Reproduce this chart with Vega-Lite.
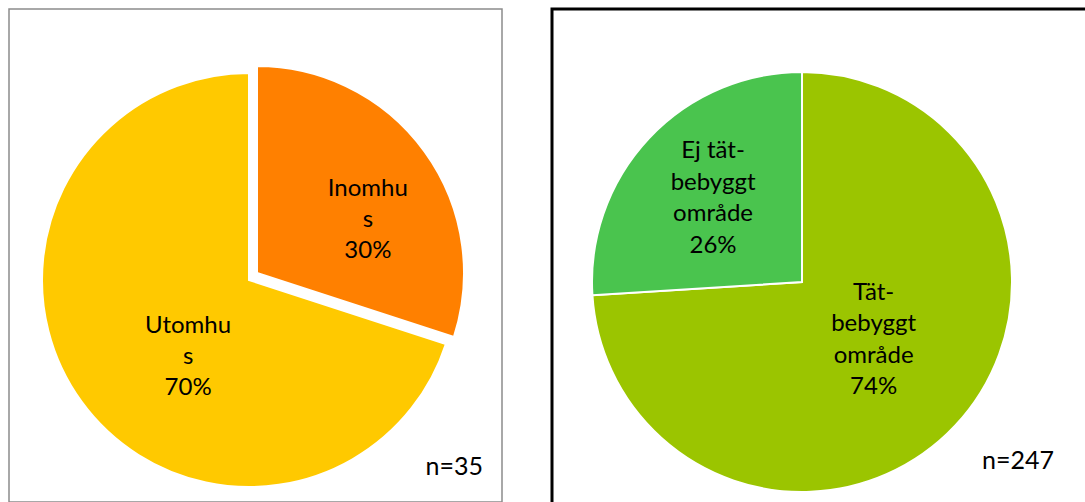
{
  "$schema": "https://vega.github.io/schema/vega-lite/v6.json",
  "padding": {"left": 8, "top": 7, "right": -9.5, "bottom": -6.5},
  "autosize": {"type": "pad"},
  "spacing": 47,
  "resolve": {"scale": {"color": "independent", "theta": "independent"}},
  "config": {"font": "Lato", "text": {"font": "Lato"}},
  "hconcat": [
    {
      "width": 493,
      "height": 493,
      "view": {"stroke": "#8c8c8c", "strokeWidth": 1.5},
      "data": {"values": [
        {"plats": "Inomhus", "etikett": "Inomhu\ns", "andel": 30},
        {"plats": "Utomhus", "etikett": "Utomhu\ns", "andel": 70}
      ]},
      "layer": [
        {
          "mark": {"type": "arc", "outerRadius": 207, "stroke": "white", "strokeWidth": 2, "x": {"expr": "concat_0_width/2 - 6.5"}, "y": {"expr": "concat_0_height/2 + 24.5"}},
          "encoding": {
            "theta": {"field": "andel", "type": "quantitative", "stack": true},
            "order": {"field": "andel", "sort": "ascending"},
            "color": {"field": "plats", "type": "nominal", "scale": {"domain": ["Inomhus", "Utomhus"], "range": ["#FF8000", "#FFC900"]}, "legend": null},
            "opacity": {"condition": {"test": "datum.plats == 'Utomhus'", "value": 1}, "value": 0}
          }
        },
        {
          "mark": {"type": "arc", "outerRadius": 207, "stroke": "white", "strokeWidth": 2, "x": {"expr": "concat_0_width/2 + 1.5"}, "y": {"expr": "concat_0_height/2 + 17.5"}},
          "encoding": {
            "theta": {"field": "andel", "type": "quantitative", "stack": true},
            "order": {"field": "andel", "sort": "ascending"},
            "color": {"field": "plats", "type": "nominal", "scale": {"domain": ["Inomhus", "Utomhus"], "range": ["#FF8000", "#FFC900"]}, "legend": null},
            "opacity": {"condition": {"test": "datum.plats == 'Inomhus'", "value": 1}, "value": 0}
          }
        },
        {
          "mark": {"type": "text", "radius": 123, "thetaOffset": 0.18, "dy": -31, "x": {"expr": "concat_0_width/2 + 1.5"}, "y": {"expr": "concat_0_height/2 + 17.5"}, "fontSize": 24, "lineBreak": "\n", "lineHeight": 31, "color": "black", "align": "center", "baseline": "middle", "text": {"expr": "datum.etikett + '\\n' + datum.andel + '%'"}},
          "encoding": {
            "theta": {"field": "andel", "type": "quantitative", "stack": true},
            "order": {"field": "andel", "sort": "ascending"},
            "opacity": {"condition": {"test": "datum.plats == 'Inomhus'", "value": 1}, "value": 0}
          }
        },
        {
          "mark": {"type": "text", "radius": 98, "thetaOffset": -0.272, "dy": -31, "x": {"expr": "concat_0_width/2 - 6.5"}, "y": {"expr": "concat_0_height/2 + 24.5"}, "fontSize": 24, "lineBreak": "\n", "lineHeight": 31, "color": "black", "align": "center", "baseline": "middle", "text": {"expr": "datum.etikett + '\\n' + datum.andel + '%'"}},
          "encoding": {
            "theta": {"field": "andel", "type": "quantitative", "stack": true},
            "order": {"field": "andel", "sort": "ascending"},
            "opacity": {"condition": {"test": "datum.plats == 'Utomhus'", "value": 1}, "value": 0}
          }
        },
        {
          "data": {"values": [{"n": 35}]},
          "mark": {"type": "text", "x": {"expr": "concat_0_width - 19"}, "y": {"expr": "concat_0_height - 27"}, "align": "right", "baseline": "alphabetic", "fontSize": 25, "color": "black", "text": {"expr": "'n=' + datum.n"}},
          "encoding": {}
        }
      ]
    },
    {
      "width": 545,
      "height": 500,
      "view": {"stroke": "#000000", "strokeWidth": 3},
      "data": {"values": [
        {"omrade": "Tät-bebyggt område", "etikett": "Tät-\nbebyggt\nområde", "andel": 74},
        {"omrade": "Ej tät-bebyggt område", "etikett": "Ej tät-\nbebyggt\nområde", "andel": 26}
      ]},
      "layer": [
        {
          "mark": {"type": "arc", "outerRadius": 210, "stroke": "white", "strokeWidth": 2, "x": {"expr": "concat_1_width/2 - 22.5"}, "y": {"expr": "concat_1_height/2 + 23"}},
          "encoding": {
            "theta": {"field": "andel", "type": "quantitative", "stack": true},
            "order": {"field": "andel", "sort": "descending"},
            "color": {"field": "omrade", "type": "nominal", "scale": {"domain": ["Tät-bebyggt område", "Ej tät-bebyggt område"], "range": ["#9BC500", "#4AC44E"]}, "legend": null}
          }
        },
        {
          "mark": {"type": "text", "radius": 122, "dy": -47, "x": {"expr": "concat_1_width/2 - 22.5"}, "y": {"expr": "concat_1_height/2 + 23"}, "fontSize": 24, "lineBreak": "\n", "lineHeight": 31.5, "color": "black", "align": "center", "baseline": "middle", "text": {"expr": "datum.etikett + '\\n' + datum.andel + '%'"}},
          "encoding": {
            "theta": {"field": "andel", "type": "quantitative", "stack": true},
            "order": {"field": "andel", "sort": "descending"},
            "opacity": {"condition": {"test": "datum.andel < 50", "value": 1}, "value": 0}
          }
        },
        {
          "mark": {"type": "text", "radius": 92, "thetaOffset": -0.075, "dy": -47, "x": {"expr": "concat_1_width/2 - 22.5"}, "y": {"expr": "concat_1_height/2 + 23"}, "fontSize": 24, "lineBreak": "\n", "lineHeight": 31.5, "color": "black", "align": "center", "baseline": "middle", "text": {"expr": "datum.etikett + '\\n' + datum.andel + '%'"}},
          "encoding": {
            "theta": {"field": "andel", "type": "quantitative", "stack": true},
            "order": {"field": "andel", "sort": "descending"},
            "opacity": {"condition": {"test": "datum.andel > 50", "value": 1}, "value": 0}
          }
        },
        {
          "data": {"values": [{"n": 247}]},
          "mark": {"type": "text", "x": {"expr": "concat_1_width - 43"}, "y": {"expr": "concat_1_height - 40"}, "align": "right", "baseline": "alphabetic", "fontSize": 25, "color": "black", "text": {"expr": "'n=' + datum.n"}},
          "encoding": {}
        }
      ]
    }
  ]
}
